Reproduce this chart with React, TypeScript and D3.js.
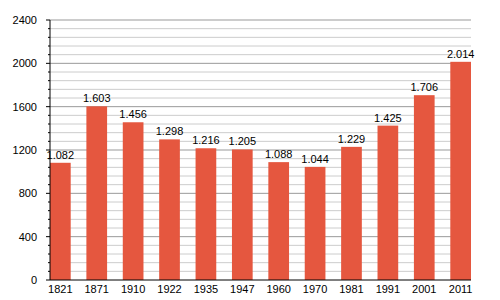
import React from "react";
import * as d3 from "d3";

const categories = ["1821", "1871", "1910", "1922", "1935", "1947", "1960", "1970", "1981", "1991", "2001", "2011"];
const values = [1082, 1603, 1456, 1298, 1216, 1205, 1088, 1044, 1229, 1425, 1706, 2014];
const yTicks = [0, 400, 800, 1200, 1600, 2000, 2400];

const W = 500, H = 300;
const left = 50, right = 471, top = 20, bottom = 280;
const barW = 20.7;
const font = "Liberation Sans, Arial, sans-serif";

export default function App() {
  const y = d3.scaleLinear().domain([0, 2400]).range([bottom, top]);
  const step = (right - barW - left) / (categories.length - 1);
  const x = (i: number) => left + i * step;
  const minor = d3.range(0, 2401, 80).filter((v) => v % 400 !== 0);
  const fmt = (v: number) => d3.format(",")(v).replace(/,/g, ".");
  return (
    <svg width={W} height={H} style={{ position: "absolute", left: 0, top: 0, background: "#fff" }}>
      {minor.map((v) => (
        <g key={"m" + v}>
          <line x1={left} x2={right} y1={y(v)} y2={y(v)} stroke="#cccccc" strokeWidth={1} />
          <line x1={left - 2} x2={left} y1={y(v)} y2={y(v)} stroke="#000" strokeWidth={1} />
        </g>
      ))}
      {yTicks.map((v) => (
        <g key={"t" + v}>
          {v > 0 && <line x1={left} x2={right} y1={y(v)} y2={y(v)} stroke="#999999" strokeWidth={1} />}
          <line x1={left - 4} x2={left} y1={y(v)} y2={y(v)} stroke="#000" strokeWidth={1} />
          <text x={37} y={y(v) + 4} textAnchor="end" fontFamily={font} fontSize={11} fill="#000">{v}</text>
        </g>
      ))}
      {values.map((v, i) => (
        <g key={"b" + i}>
          <rect x={x(i)} y={y(v)} width={barW} height={bottom - y(v)} fill="#e5573f" />
          <text x={x(i) + barW / 2} y={y(v) - 4} textAnchor="middle" fontFamily={font} fontSize={11} fill="#000">{fmt(v)}</text>
          <text x={x(i) + barW / 2} y={bottom + 13} textAnchor="middle" fontFamily={font} fontSize={11} fill="#000">{categories[i]}</text>
        </g>
      ))}
      <line x1={left} x2={left} y1={top} y2={bottom} stroke="#000" strokeWidth={1} />
      <line x1={left} x2={right} y1={bottom} y2={bottom} stroke="#000" strokeWidth={1} />
    </svg>
  );
}
